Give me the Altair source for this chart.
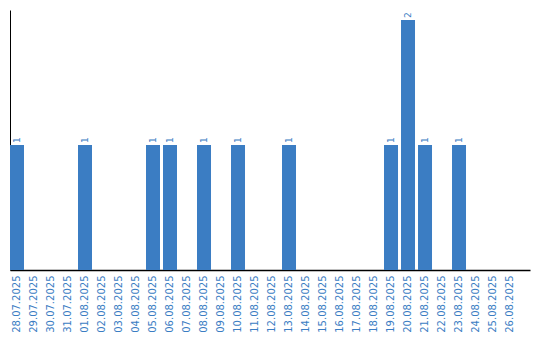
import altair as alt
import pandas as pd

dates = ["28.07.2025", "29.07.2025", "30.07.2025", "31.07.2025", "01.08.2025",
         "02.08.2025", "03.08.2025", "04.08.2025", "05.08.2025", "06.08.2025",
         "07.08.2025", "08.08.2025", "09.08.2025", "10.08.2025", "11.08.2025",
         "12.08.2025", "13.08.2025", "14.08.2025", "15.08.2025", "16.08.2025",
         "17.08.2025", "18.08.2025", "19.08.2025", "20.08.2025", "21.08.2025",
         "22.08.2025", "23.08.2025", "24.08.2025", "25.08.2025", "26.08.2025"]
counts = [1, 0, 0, 0, 1, 0, 0, 0, 1, 1, 0, 1, 0, 1, 0, 0, 1, 0, 0, 0,
          0, 0, 1, 2, 1, 0, 1, 0, 0, 0]

df = pd.DataFrame({"date": dates, "count": counts})
df["label"] = [str(c) if c > 0 else "" for c in counts]

BLUE = "#3b7dc3"

x = alt.X("date:N", sort=dates, title=None,
          scale=alt.Scale(paddingInner=0.1765, paddingOuter=0.382, align=0),
          axis=alt.Axis(labelAngle=270, labelColor=BLUE, labelFont="DejaVu Sans",
                        labelFontSize=10, ticks=False, domainColor="black",
                        domainWidth=1.5, labelPadding=5, grid=False))
y = alt.Y("count:Q", title=None, scale=alt.Scale(domain=[0, 2.08], nice=False),
          axis=alt.Axis(labels=False, ticks=False, grid=False, domainColor="black",
                        domainWidth=1))

bars = alt.Chart(df).mark_bar(color=BLUE).encode(x=x, y=y)
text = alt.Chart(df).mark_text(angle=270, align="left", baseline="middle", dx=2,
                               color=BLUE, font="DejaVu Sans", fontSize=9).encode(
    x=alt.X("date:N", sort=dates), y="count:Q", text="label:N")

chart = (bars + text).properties(
    width=520, height=260,
    autosize=alt.AutoSizeParams(type="none"),
    padding={"left": 10, "top": 10, "right": 10, "bottom": 70},
).configure_view(stroke=None)

chart.save("out.html", embed_options={"renderer": "svg", "actions": False})
